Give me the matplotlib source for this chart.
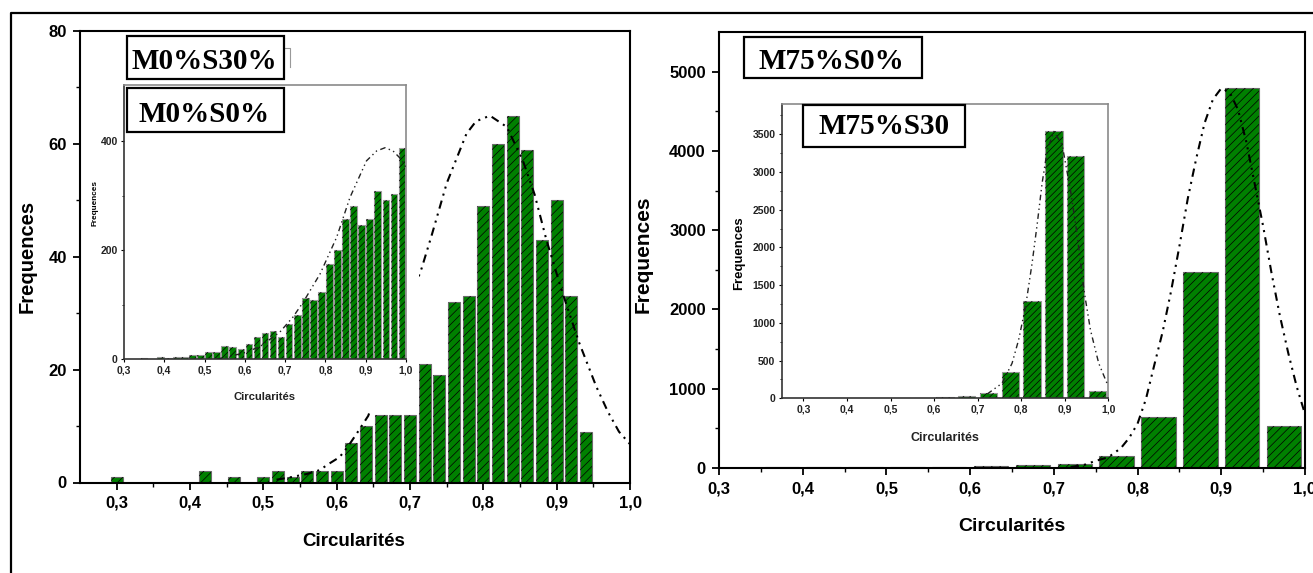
import matplotlib
matplotlib.use("Agg")
import matplotlib.pyplot as plt
from matplotlib import font_manager
from matplotlib.patches import Rectangle
from matplotlib.lines import Line2D
from matplotlib.ticker import FixedLocator

# ---------------- data ----------------
x_ticks = [0.3, 0.4, 0.5, 0.6, 0.7, 0.8, 0.9, 1.0]
x_tick_labels = ["0,3", "0,4", "0,5", "0,6", "0,7", "0,8", "0,9", "1,0"]
x_minor = [0.35, 0.45, 0.55, 0.65, 0.75, 0.85, 0.95]

# left main : M0%S30%
m0s30_bins = [0.30, 0.42, 0.46, 0.50, 0.52, 0.54, 0.56, 0.58, 0.60, 0.62, 0.64,
              0.66, 0.68, 0.70, 0.72, 0.74, 0.76, 0.78, 0.80, 0.82, 0.84, 0.86,
              0.88, 0.90, 0.92, 0.94]
m0s30_counts = [1, 2, 1, 1, 2, 1, 2, 2, 2, 7, 10, 12, 12, 12, 21, 19, 32, 33,
                49, 60, 65, 59, 43, 50, 33, 9]
m0s30_fit_x = [0.518, 0.536, 0.559, 0.577, 0.588, 0.604, 0.615, 0.627, 0.643,
               0.716, 0.730, 0.750, 0.777, 0.790, 0.809, 0.832, 0.854, 0.870,
               0.886, 0.907, 0.930, 0.954, 0.970, 0.985, 1.000]
m0s30_fit_y = [0.5, 0.9, 1.5, 2.2, 3.2, 4.5, 6.3, 8.6, 11.8, 38, 44, 53, 61.8,
               64, 65, 63, 57, 51, 43, 34, 25, 17, 12.5, 9, 6.8]

# left inset : M0%S0%
m0s0_bins = [0.35, 0.39, 0.41, 0.43, 0.45, 0.47, 0.49, 0.51, 0.53, 0.55, 0.57,
             0.59, 0.61, 0.63, 0.65, 0.67, 0.69, 0.71, 0.73, 0.75, 0.77, 0.79,
             0.81, 0.83, 0.85, 0.87, 0.89, 0.91, 0.93, 0.95, 0.97, 0.99]
m0s0_counts = [2, 4, 3, 5, 5, 7, 7, 13, 13, 25, 22, 19, 28, 40, 49, 52, 41, 64,
               81, 112, 109, 123, 175, 201, 257, 282, 246, 257, 309, 292, 304, 388]
m0s0_fit_x = [0.53, 0.54, 0.595, 0.637, 0.687, 0.72, 0.745, 0.787, 0.828, 0.861,
              0.902, 0.927, 0.948, 0.968, 0.989, 1.0]
m0s0_fit_y = [0, 2, 11, 23, 50, 78, 105, 157, 224, 297, 364, 382, 388, 382, 366, 351]

# right main : M75%S0%
m75s0_bins = [0.375, 0.425, 0.475, 0.525, 0.575, 0.625, 0.675, 0.725, 0.775,
              0.825, 0.875, 0.925, 0.975]
m75s0_counts = [8, 8, 8, 8, 8, 25, 35, 45, 150, 646, 2470, 4790, 527]
m75s0_fit_x = [0.720, 0.735, 0.750, 0.765, 0.780, 0.790, 0.800, 0.810, 0.820,
               0.830, 0.840, 0.850, 0.860, 0.870, 0.880, 0.890, 0.900, 0.910,
               0.920, 0.930, 0.940, 0.950, 0.960, 0.970, 0.980, 0.990, 1.000]
m75s0_fit_y = [12, 35, 90, 135, 250, 380, 560, 870, 1300, 1720, 2230, 2800, 3400,
               3900, 4350, 4650, 4790, 4740, 4520, 4110, 3580, 3050, 2460, 1920,
               1450, 1030, 680]

# right inset : M75%S30
m75s30_bins = [0.325, 0.375, 0.425, 0.475, 0.525, 0.575, 0.625, 0.675, 0.725,
               0.775, 0.825, 0.875, 0.925, 0.975]
m75s30_counts = [3, 3, 3, 3, 3, 3, 20, 30, 75, 345, 1296, 3545, 3206, 102]
m75s30_fit_x = [0.722, 0.756, 0.779, 0.794, 0.810, 0.825, 0.837, 0.848, 0.860,
                0.875, 0.894, 0.913, 0.928, 0.944, 0.959, 0.978, 0.997]
m75s30_fit_y = [57, 199, 464, 773, 1215, 1790, 2321, 2851, 3293, 3536, 3359,
                2763, 2188, 1436, 906, 464, 199]

ylabel_text = "Frequences"
xlabel_text = "Circularités"
box_texts = ["M0%S30%", "M0%S0%", "M75%S0%", "M75%S30"]

# ---------------- fonts ----------------
names = {f.name for f in font_manager.fontManager.ttflist}
SANS = "Liberation Sans" if "Liberation Sans" in names else "DejaVu Sans"
SERIF = "Liberation Serif" if "Liberation Serif" in names else "DejaVu Serif"
if "Liberation Sans Narrow" in names:
    NARROW, NS = "Liberation Sans Narrow", 1.0
else:
    NARROW, NS = SANS, 0.9
plt.rcParams["font.family"] = SANS
plt.rcParams["font.weight"] = "bold"
plt.rcParams["axes.labelweight"] = "bold"
plt.rcParams["hatch.linewidth"] = 0.5

GREEN = "#008000"
W, H = 1313, 573
fig = plt.figure(figsize=(W / 100, H / 100), dpi=100)


def fx(px):
    return px / W


def fy(py):
    return 1 - py / H


def rect(x0, y0, x1, y1):
    return [fx(x0), fy(y1), fx(x1) - fx(x0), fy(y0) - fy(y1)]


def hist(ax, bins, counts, width, edge, hatch):
    ax.bar(bins, counts, width=width, color=GREEN, edgecolor=edge,
           linewidth=0.8, zorder=2)
    ax.bar(bins, counts, width=width, facecolor="none", edgecolor="black",
           linewidth=0, hatch=hatch, zorder=2.5)


def fmt_main(ax, yt, ymin):
    for s in ax.spines.values():
        s.set_linewidth(1.5)
        s.set_color("black")
    ax.set_xticks(x_ticks)
    ax.set_xticklabels(x_tick_labels)
    ax.xaxis.set_minor_locator(FixedLocator(x_minor))
    ax.set_yticks(yt)
    ax.yaxis.set_minor_locator(FixedLocator(ymin))
    ax.tick_params(which="major", direction="out", length=5, width=1.3,
                   labelsize=12, pad=4.5)
    ax.tick_params(which="minor", direction="out", length=3, width=1.0)


def fmt_inset(ax, yt, ymin, fs):
    for k, s in ax.spines.items():
        s.set_linewidth(1.2)
        s.set_color("#333333" if k in ("left", "bottom") else "#8a8a8a")
    ax.set_xticks(x_ticks)
    ax.set_xticklabels(x_tick_labels)
    ax.set_yticks(yt)
    ax.yaxis.set_minor_locator(FixedLocator(ymin))
    ax.tick_params(which="major", direction="out", length=2.5, width=0.8, pad=2)
    ax.tick_params(which="minor", direction="out", length=1.5, width=0.6)
    for lb in ax.get_xticklabels() + ax.get_yticklabels():
        lb.set_family(NARROW)
        lb.set_fontsize(fs * NS)
        lb.set_color("#222222")


FIT_LS = (0, (4, 2.5, 1, 2.5, 1, 2.5))

# ---------- left main ----------
ax1 = fig.add_axes(rect(80, 31, 630, 482.5))
ax1.set_xlim(0.25, 1.0)
ax1.set_ylim(0, 80)
hist(ax1, m0s30_bins, m0s30_counts, 0.0165, "#6a6a6a", "////")
ax1.plot(m0s30_fit_x, m0s30_fit_y, color="black", lw=1.5, ls=FIT_LS, zorder=3)
fmt_main(ax1, [0, 20, 40, 60, 80], [10, 30, 50, 70])
ax1.set_ylabel(ylabel_text, fontsize=14.5, weight="bold")
ax1.yaxis.set_label_coords(-0.078, 0.5)
ax1.set_xlabel(xlabel_text, fontsize=13.5, weight="bold")
ax1.xaxis.set_label_coords(0.498, -0.112)

# ---------- right main ----------
ax2 = fig.add_axes(rect(719, 32, 1305, 468))
ax2.set_xlim(0.3, 1.0)
ax2.set_ylim(0, 5500)
hist(ax2, m75s0_bins, m75s0_counts, 0.041, "#6a6a6a", "////")
ax2.plot(m75s0_fit_x, m75s0_fit_y, color="black", lw=1.5, ls=FIT_LS, zorder=3)
fmt_main(ax2, [0, 1000, 2000, 3000, 4000, 5000], [500, 1500, 2500, 3500, 4500])
ax2.set_ylabel(ylabel_text, fontsize=15, weight="bold")
ax2.yaxis.set_label_coords(-0.113, 0.49)
ax2.set_xlabel(xlabel_text, fontsize=14, weight="bold")
ax2.xaxis.set_label_coords(0.5, -0.115)

# white background of the pasted left inset picture
fig.add_artist(Rectangle((fx(88), fy(413)), fx(419) - fx(88), fy(80) - fy(413),
                         transform=fig.transFigure, facecolor="white",
                         edgecolor="none", zorder=1))

# ---------- left inset ----------
ax3 = fig.add_axes(rect(124, 85, 406, 359.3))
ax3.set_zorder(2)
ax3.set_xlim(0.3, 1.0)
ax3.set_ylim(0, 503)
hist(ax3, m0s0_bins, m0s0_counts, 0.0165, "#9a9a9a", "/////")
ax3.plot(m0s0_fit_x, m0s0_fit_y, color="#222222", lw=1.0, ls=FIT_LS, zorder=3)
fmt_inset(ax3, [0, 200, 400], [100, 300], 8.3)
ax3.set_ylabel(ylabel_text, fontsize=6.5 * NS, family=NARROW, weight="bold")
ax3.yaxis.set_label_coords(-0.092, 0.57)
ax3.set_xlabel(xlabel_text, fontsize=9 * NS, family=NARROW, color="#222222",
               weight="bold")
ax3.xaxis.set_label_coords(0.5, -0.119)

# ---------- right inset ----------
ax4 = fig.add_axes(rect(781.7, 104, 1108.3, 398.3))
ax4.set_zorder(2)
ax4.set_xlim(0.25, 1.0)
ax4.set_ylim(0, 3900)
hist(ax4, m75s30_bins, m75s30_counts, 0.04, "#9a9a9a", "/////")
ax4.plot(m75s30_fit_x, m75s30_fit_y, color="#222222", lw=1.0, ls=FIT_LS, zorder=3)
fmt_inset(ax4, [0, 500, 1000, 1500, 2000, 2500, 3000, 3500],
          [250, 750, 1250, 1750, 2250, 2750, 3250, 3750], 8.3)
ax4.set_ylabel(ylabel_text, fontsize=10.5 * NS, family=NARROW, weight="bold")
ax4.yaxis.set_label_coords(-0.112, 0.494)
ax4.set_xlabel(xlabel_text, fontsize=10 * NS, family=NARROW, color="#222222",
               weight="bold")
ax4.xaxis.set_label_coords(0.5, -0.113)

# ---------- labelled boxes ----------
boxes = [(126.7, 35.7, 284.3, 79.3, 204.5, 69.0),
         (126.7, 88.3, 284.3, 131.7, 204.3, 121.7),
         (744.0, 37.0, 921.5, 78.3, 831.4, 69.0),
         (803.3, 105.0, 965.0, 146.7, 884.2, 134.3)]
for (x0, y0, x1, y1, tx, ty), txt in zip(boxes, box_texts):
    fig.add_artist(Rectangle((fx(x0), fy(y1)), fx(x1) - fx(x0), fy(y0) - fy(y1),
                             transform=fig.transFigure, facecolor="white",
                             edgecolor="black", linewidth=1.6, zorder=5))
    fig.text(fx(tx), fy(ty), txt, ha="center", va="baseline", fontsize=21,
             family=SERIF, weight="bold", zorder=6)

# small grey mark beside the first box
fig.add_artist(Line2D([fx(284.5), fx(290), fx(290)], [fy(48), fy(48), fy(67)],
                      transform=fig.transFigure, color="#999999", lw=0.8, zorder=4))

# outer frame (left and top edges visible)
fig.add_artist(Line2D([fx(11), fx(11), fx(W + 5)], [fy(H + 5), fy(12.5), fy(12.5)],
                      transform=fig.transFigure, color="black", lw=1.6, zorder=7))

fig.savefig("out.png", dpi=100)
